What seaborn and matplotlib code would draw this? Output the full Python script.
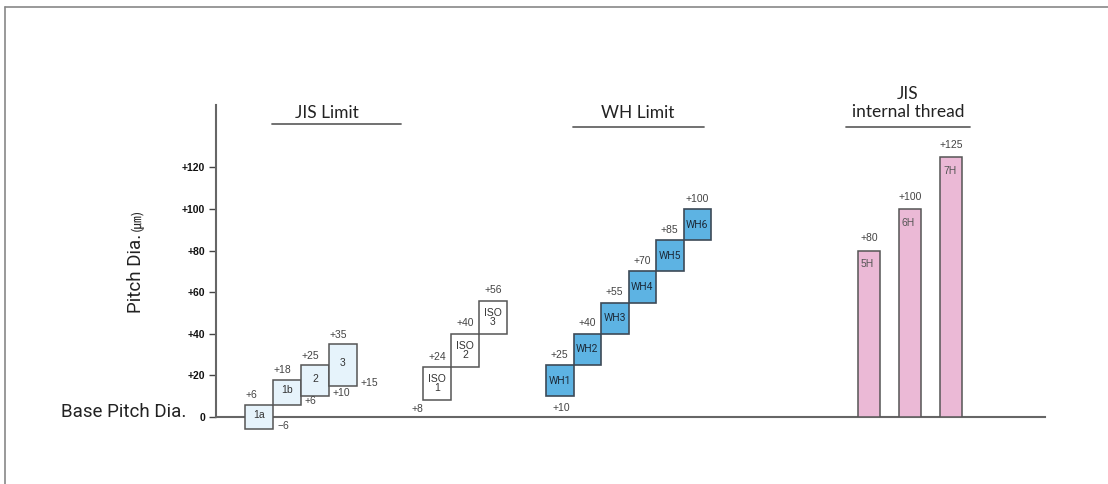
import matplotlib
matplotlib.use('Agg')
import matplotlib.pyplot as plt
from matplotlib.lines import Line2D
import seaborn as sns
import pandas as pd

# ---- data ----
jis_names = ['1a', '1b', '2', '3']
jis_low = [-6, 6, 10, 15]
jis_high = [6, 18, 25, 35]

iso_names = ['ISO\n1', 'ISO\n2', 'ISO\n3']
iso_low = [8, 24, 40]
iso_high = [24, 40, 56]

wh_names = ['WH1', 'WH2', 'WH3', 'WH4', 'WH5', 'WH6']
wh_low = [10, 25, 40, 55, 70, 85]
wh_high = [25, 40, 55, 70, 85, 100]

int_names = ['5H', '6H', '7H']
int_high = [80, 100, 125]

y_ticks = [0, 20, 40, 60, 80, 100, 120]
y_tick_labels = ['0', '+20', '+40', '+60', '+80', '+100', '+120']

# ---- layout (x axis in pixel-like units) ----
jis_x0, jis_w = 29, 28
iso_x0, iso_w = 207, 28
wh_x0, wh_w = 330, 27.5
int_x0, int_step, int_w = 653, 41, 22

LIGHT = '#e6f3fb'
BLUE = '#5db3e3'
PINK = '#ebb9d6'
EDGE = '#555555'
TXT = '#444444'

sns.set_theme(style='ticks')
plt.rcParams['font.family'] = ['Liberation Sans', 'DejaVu Sans']
NARROW = ['Roboto', 'DejaVu Sans']
TITLE = ['Lato', 'DejaVu Sans']


def sgn(v):
    if v > 0:
        return '+' + str(v)
    if v < 0:
        return '\u2212' + str(-v)
    return '0'


fig = plt.figure(figsize=(11.08, 4.84), dpi=100)
ax = fig.add_axes([216 / 1108, 67 / 484, 829 / 1108, 312 / 484])

# JIS limit boxes
jis_x = [jis_x0 + i * jis_w for i in range(len(jis_names))]
ax.bar(jis_x, [h - l for l, h in zip(jis_low, jis_high)], bottom=jis_low,
       width=jis_w, align='edge', color=LIGHT, edgecolor=EDGE, linewidth=1.1,
       clip_on=False, zorder=3)
for x, n, l, h in zip(jis_x, jis_names, jis_low, jis_high):
    ax.text(x + jis_w / 2, (l + h) / 2 + 1, n, ha='center', va='center',
            fontsize=7.5, color='#333', zorder=4)
    ax.text(x + 1, h + 4.5, sgn(h), ha='left', va='center', fontsize=7.5, color=TXT)
    ax.text(x + jis_w + 4, l + 1.5, sgn(l), ha='left', va='center', fontsize=7.5, color=TXT)

# ISO boxes
iso_x = [iso_x0 + i * iso_w for i in range(len(iso_names))]
ax.bar(iso_x, [h - l for l, h in zip(iso_low, iso_high)], bottom=iso_low,
       width=iso_w, align='edge', color='white', edgecolor=EDGE, linewidth=1.1,
       zorder=3)
for x, n, l, h in zip(iso_x, iso_names, iso_low, iso_high):
    ax.text(x + iso_w / 2, (l + h) / 2, n, ha='center', va='center',
            fontsize=7.5, color='#333', linespacing=0.85, zorder=4)
    ax.text(x + iso_w / 2, h + 5, sgn(h), ha='center', va='center', fontsize=7.5, color=TXT)
ax.text(iso_x[0], iso_low[0] - 4, sgn(iso_low[0]), ha='right', va='center',
        fontsize=7.5, color=TXT)

# WH boxes
wh_x = [wh_x0 + i * wh_w for i in range(len(wh_names))]
ax.bar(wh_x, [h - l for l, h in zip(wh_low, wh_high)], bottom=wh_low,
       width=wh_w, align='edge', color=BLUE, edgecolor='#3d4a57', linewidth=1.2,
       zorder=3)
for x, n, l, h in zip(wh_x, wh_names, wh_low, wh_high):
    ax.text(x + wh_w / 2, (l + h) / 2, n, ha='center', va='center',
            fontsize=7.5, color='#1d2b3a', family=NARROW, zorder=4)
    ax.text(x + wh_w / 2, h + 5, sgn(h), ha='center', va='center', fontsize=7.5, color=TXT)
ax.text(wh_x[0] + wh_w / 2 + 2, wh_low[0] - 5.5, sgn(wh_low[0]), ha='center',
        va='center', fontsize=7.5, color=TXT)

# internal thread bars (seaborn)
int_x = [int_x0 + i * int_step for i in range(len(int_names))]
df_int = pd.DataFrame({'pos': int_x, 'limit': int_high})
sns.barplot(data=df_int, x='pos', y='limit', native_scale=True,
            width=int_w / int_step, color=PINK, saturation=1,
            edgecolor=EDGE, linewidth=1.1, ax=ax, zorder=3)
for x, n, h in zip(int_x, int_names, int_high):
    ax.text(x - int_w / 2 + 3, h - 6.5, n, ha='left', va='center',
            fontsize=7.5, color='#555', zorder=4)
    ax.text(x, h + 6, sgn(h), ha='center', va='center', fontsize=7.5, color=TXT)

# group titles with underlines
ax.text(111, 146.2, 'JIS Limit', ha='center', va='center', fontsize=12.5,
        family=TITLE, color='#222')
ax.plot([56, 185], [141, 141], color='#666', lw=1.3, clip_on=False)
ax.text(422, 146.2, 'WH Limit', ha='center', va='center', fontsize=12.5,
        family=TITLE, color='#222')
ax.plot([357, 488], [139.4, 139.4], color='#666', lw=1.3, clip_on=False)
ax.text(692, 143, 'JIS\ninternal thread', ha='center', va='bottom', fontsize=12.5,
        family=TITLE, color='#222', linespacing=1.1, multialignment='center')
ax.plot([630, 754], [139.4, 139.4], color='#666', lw=1.3, clip_on=False)

# axes styling
ax.set_xlim(0, 829)
ax.set_ylim(0, 150)
ax.set_xticks([])
ax.set_xlabel('')
ax.set_ylabel('')
ax.set_yticks(y_ticks)
ax.set_yticklabels(y_tick_labels, fontweight='bold', fontsize=7.5, color='#111')
ax.tick_params(axis='y', direction='out', length=5, width=1, color='#444', pad=3)
sns.despine(ax=ax)
for side in ['left', 'bottom']:
    ax.spines[side].set_color('#666')
    ax.spines[side].set_linewidth(1.5)
ax.set_facecolor('white')

# axis titles
fig.text(186 / 1108, 1 - 412 / 484, 'Base Pitch Dia.', ha='right', va='center',
         fontsize=13.5, family=NARROW, color='#222')
fig.text(136 / 1108, 1 - 273 / 484, 'Pitch Dia.', ha='center', va='center',
         rotation=90, fontsize=13.5, family=NARROW, color='#222')
fig.text(137 / 1108, 1 - 220 / 484, '(\u339b)', ha='center', va='center',
         rotation=90, fontsize=9.5, family=['Noto Sans CJK JP', 'DejaVu Sans'],
         color='#222')

# outer frame
fig.add_artist(Line2D([5 / 1108, 1], [1 - 7 / 484, 1 - 7 / 484],
                      transform=fig.transFigure, color='#888', lw=1.2))
fig.add_artist(Line2D([5 / 1108, 5 / 1108], [0, 1 - 7 / 484],
                      transform=fig.transFigure, color='#888', lw=1.2))

fig.savefig('out.png', dpi=100, facecolor='white')
